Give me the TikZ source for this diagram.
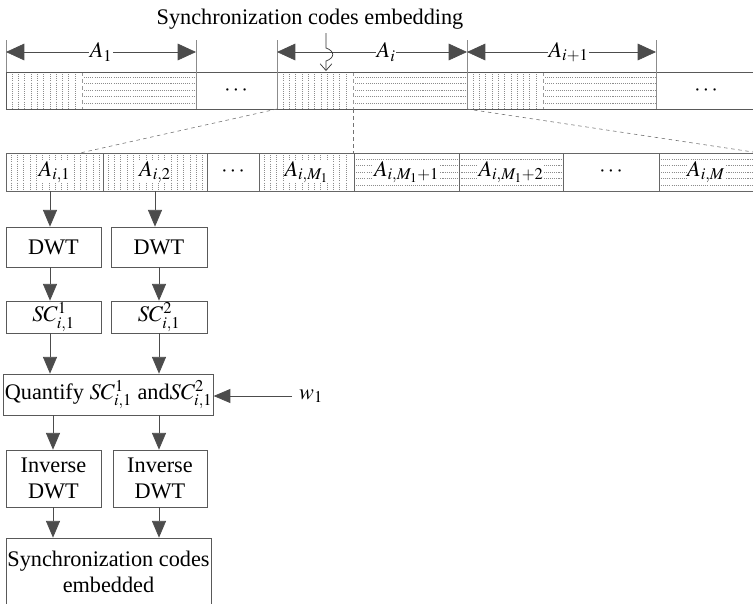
\documentclass[tikz,border=0pt]{standalone}
\usepackage{mathptmx}
\usepackage{fontspec}
\setmainfont{Liberation Serif}
\usetikzlibrary{arrows.meta}

\tikzset{
  every node/.style={font=\fontsize{19}{22}\selectfont},
  box/.style={draw=black!65, line width=0.6pt, align=center, inner sep=1pt},
  cell/.style={draw=black!60, line width=0.6pt, minimum height=1.14cm, inner sep=0pt},
  lbl/.style={fill=white, inner sep=0.5pt},
  bar/.style={draw=black!65, line width=0.6pt},
  tick/.style={draw=black!45, line width=0.6pt},
  hatch/.style={draw=black!45, dash pattern=on 0.9pt off 0.9pt, line width=0.45pt},
  split/.style={draw=black!40, dashed, line width=0.6pt},
  zoomline/.style={draw=black!55, dashed, line width=0.5pt},
  arr/.style={draw=black!70, line width=0.6pt, -{Triangle[length=0.5cm,width=0.42cm]}},
  dim/.style={draw=black!70, line width=0.6pt,
    {Triangle[length=0.55cm,width=0.5cm]}-{Triangle[length=0.55cm,width=0.5cm]}},
}

\begin{document}
\begin{tikzpicture}[x=0.03cm, y=-0.03cm]
\useasboundingbox (0,0) rectangle (753,603);

% first bar: segments A_1 ... A_i ... A_{i+1} ...
\foreach \x in {12,18.3,...,80} \draw[hatch] (\x,72) -- (\x,109);
\foreach \y in {77,83.5,...,105} \draw[hatch] (84,\y) -- (196,\y);
\foreach \x in {283,289.3,...,351} \draw[hatch] (\x,72) -- (\x,109);
\foreach \y in {77,83.5,...,105} \draw[hatch] (355,\y) -- (467,\y);
\foreach \x in {473,479.3,...,541} \draw[hatch] (\x,72) -- (\x,109);
\foreach \y in {77,83.5,...,105} \draw[hatch] (545,\y) -- (656,\y);
\draw[split] (82,72) -- (82,109);
\draw[split] (353,72) -- (353,109);
\draw[split] (543,72) -- (543,109);
\draw[bar] (760,72) -- (6,72) -- (6,109) -- (760,109);
\foreach \x in {196,277,467,656} \draw[tick] (\x,72) -- (\x,109);
\node (dots1) at (236,91) {$\cdots$};
\node (dots2) at (706,91) {$\cdots$};

% lengths of the segments
\foreach \x in {6,196,277,467,656} \draw[tick] (\x,40) -- (\x,72);
\coordinate (d0) at (6,52);
\coordinate (d1) at (196,52);
\coordinate (d2) at (277,52);
\coordinate (d3) at (467,52);
\coordinate (d4) at (656,52);
\draw[dim] (d0) -- node[lbl] (len1) {$A_1$} (d1);
\draw[dim] (d2) -- node[lbl, xshift=12] (leni) {$A_i$} (d3);
\draw[dim] (d3) -- node[lbl, xshift=6] (lenip) {$A_{i+1}$} (d4);

% embedding position
\node (title) at (310,19) {Synchronization codes embedding};
\coordinate (emb) at (326,71);
\draw[draw=black!80, line width=0.6pt, -{Straight Barb[length=0.2cm,width=0.35cm]}]
  (326,33) -- (326,48) .. controls (335,51) and (335,58) .. (326,61) -- (emb);

% zoom of A_i
\draw[zoomline] (277,109) -- (80,153);
\draw[zoomline] (353,109) -- (353,153);
\draw[zoomline] (467,109) -- (753,152);

% second bar: sub-segments of A_i
\foreach \x in {11,17.3,...,101} \draw[hatch] (\x,153) -- (\x,191);
\foreach \x in {108,114.3,...,204} \draw[hatch] (\x,153) -- (\x,191);
\foreach \x in {264,270.3,...,352} \draw[hatch] (\x,153) -- (\x,191);
\foreach \y in {159,165.5,...,187} \draw[hatch] (356,\y) -- (561,\y);
\foreach \y in {159,165.5,...,187} \draw[hatch] (661,\y) -- (760,\y);
\node[cell, minimum width=2.91cm] (a1) at (54.5,172) {};
\node[cell, minimum width=3.12cm] (a2) at (155,172) {};
\node[cell, minimum width=1.56cm] (ad1) at (233,172) {};
\node[cell, minimum width=2.85cm] (aM1) at (306.5,172) {};
\node[cell, minimum width=3.15cm] (aM1p1) at (406.5,172) {};
\node[cell, minimum width=3.12cm] (aM1p2) at (511,172) {};
\node[cell, minimum width=2.88cm] (ad2) at (611,172) {};
\node[cell, minimum width=3.03cm] (aM) at (709.5,172) {};
\node[lbl] (la1) at (a1) {$A_{i,1}$};
\node[lbl] (la2) at (a2) {$A_{i,2}$};
\node (ld1) at (ad1) {$\cdots$};
\node[lbl] (laM1) at (aM1) {$A_{i,M_1}$};
\node[lbl] (laM1p1) at (aM1p1) {$A_{i,M_1+1}$};
\node[lbl] (laM1p2) at (aM1p2) {$A_{i,M_1+2}$};
\node (ld2) at (ad2) {$\cdots$};
\node[lbl] (laM) at (706,172) {$A_{i,M}$};

% embedding steps
\node[box, minimum width=2.85cm, minimum height=1.2cm] (dwt1) at (53.5,247) {DWT};
\node[box, minimum width=2.88cm, minimum height=1.2cm] (dwt2) at (159,247) {DWT};
\node[box, minimum width=2.85cm, minimum height=0.96cm] (sc1) at (53.5,317) {$SC^1_{i,1}$};
\node[box, minimum width=2.88cm, minimum height=0.96cm] (sc2) at (159,317) {$SC^2_{i,1}$};
\node[box, minimum width=6.15cm, minimum height=1.23cm] (quant) at (108.5,394.5)
  {Quantify $SC^1_{i,1}$ and$SC^2_{i,1}$};
\node (w1) at (311,396) {$w_1$};
\node[box, minimum width=2.85cm, minimum height=1.71cm] (inv1) at (53.5,478.5) {Inverse\\DWT};
\node[box, minimum width=2.82cm, minimum height=1.71cm] (inv2) at (160,478.5) {Inverse\\DWT};
\node[box, minimum width=6.15cm, minimum height=2.01cm] (done) at (108.5,571.5)
  {Synchronization codes\\embedded};

\draw[arr] (a1.south -| 50,0) -- (dwt1.north -| 50,0);
\draw[arr] (a2.south -| 155,0) -- (dwt2.north -| 155,0);
\draw[arr] (dwt1.south -| 50,0) -- (sc1.north -| 50,0);
\draw[arr] (dwt2.south -| 159,0) -- (sc2.north -| 159,0);
\draw[arr] (sc1.south -| 50,0) -- (quant.north -| 50,0);
\draw[arr] (sc2.south -| 159,0) -- (quant.north -| 159,0);
\draw[arr] (w1.west) ++(-3,0) -- (quant.east |- w1.west);
\draw[arr] (quant.south -| 53,0) -- (inv1.north -| 53,0);
\draw[arr] (quant.south -| 159,0) -- (inv2.north -| 159,0);
\draw[arr] (inv1.south -| 53,0) -- (done.north -| 53,0);
\draw[arr] (inv2.south -| 159,0) -- (done.north -| 159,0);
\end{tikzpicture}
\end{document}
